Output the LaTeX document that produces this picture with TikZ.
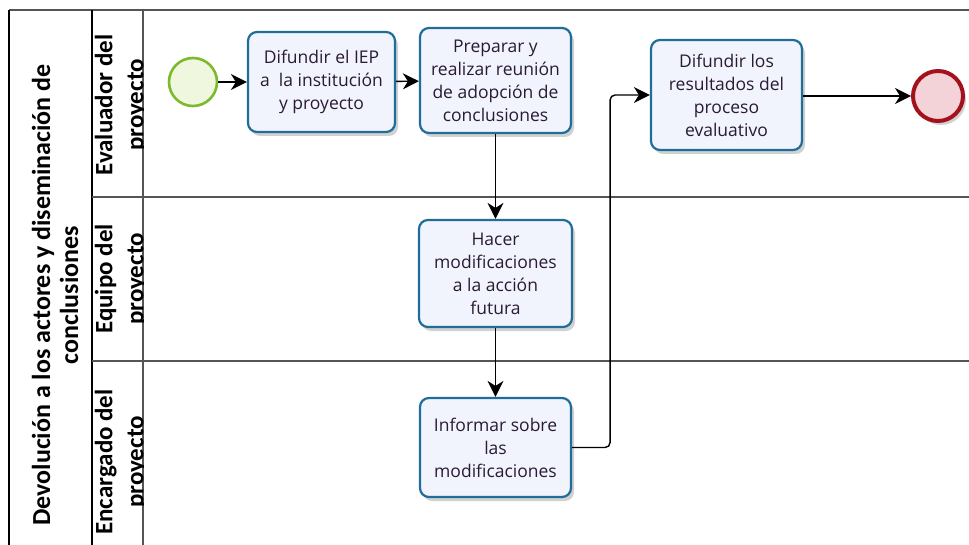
\documentclass[tikz,border=0pt]{standalone}
\usepackage{fontspec}
\setmainfont{Open Sans}
\newfontfamily\lanefont{Carlito}
\usetikzlibrary{arrows.meta,shadows}
\definecolor{taskline}{HTML}{1F6D98}
\definecolor{taskfill}{HTML}{F1F4FC}
\definecolor{tasktext}{HTML}{2A1A35}
\definecolor{startline}{HTML}{7DBA2A}
\definecolor{startfill}{HTML}{EFF8DF}
\definecolor{endline}{HTML}{A3121C}
\definecolor{endfill}{HTML}{F4D3D8}
\definecolor{laneline}{HTML}{555555}
\begin{document}
\begin{tikzpicture}[x=1pt,y=-1pt,
    task/.style={draw=taskline, line width=2.2pt, rounded corners=9pt, fill=taskfill,
      align=center, text=tasktext, inner sep=2pt,
      font=\fontsize{17.5}{23}\selectfont,
      drop shadow={shadow xshift=3pt, shadow yshift=-4pt, opacity=0.18, fill=black}},
    event/.style={circle, minimum size=#1},
    flow/.style={draw=black, line width=1.4pt, -{Stealth[length=16pt,width=16pt,inset=5pt]}},
    lanelabel/.style={rotate=90, align=center, font=\lanefont\bfseries\fontsize{25}{31}\selectfont}]
  \useasboundingbox (0,0) rectangle (969,545);
  \fill[white] (0,0) rectangle (969,545);

  % pool and lanes
  \draw[laneline, line width=1.6pt] (9,10) -- (969,10);
  \draw[black, line width=1.6pt] (9,10) -- (9,545);
  \draw[black, line width=2pt] (92,10) -- (92,545);
  \draw[laneline, line width=2pt] (143,10) -- (143,545);
  \draw[laneline, line width=1.6pt] (92,197) -- (969,197);
  \draw[laneline, line width=1.6pt] (92,361) -- (969,361);
  \node[rotate=90, align=center, font=\lanefont\bfseries\fontsize{26}{28}\selectfont] (pool) at (55,295)
    {Devolución a los actores y diseminación de\\conclusiones};
  \begin{scope}
    \clip (92,10) rectangle (143,545);
    \node[lanelabel] (evaluador) at (121,105) {Evaluador del\\proyecto};
    \node[lanelabel] (equipo) at (121,279) {Equipo del\\proyecto};
    \node[lanelabel] (encargado) at (121,462) {Encargado del\\proyecto};
  \end{scope}

  % events
  \node[event=48pt, draw=startline, line width=2.6pt, fill=startfill] (start) at (193,82) {};
  \node[event=50pt, draw=endline, line width=4pt, fill=endfill,
    drop shadow={shadow xshift=3pt, shadow yshift=-4pt, opacity=0.18, fill=black}] (end) at (938,96) {};

  % tasks
  \node[task, minimum width=147pt, minimum height=100pt] (difundir) at (321.5,82)
    {Difundir el IEP\\a\ \ la institución\\y proyecto};
  \node[task, minimum width=151pt, minimum height=105pt] (preparar) at (495.5,80.5)
    {Preparar y\\realizar reunión\\de adopción de\\conclusiones};
  \node[task, minimum width=151pt, minimum height=110pt] (resultados) at (726.5,95)
    {Difundir los\\resultados del\\proceso\\evaluativo};
  \node[task, minimum width=153pt, minimum height=107pt] (hacer) at (495.5,273.5)
    {Hacer\\modificaciones\\a la acción\\futura};
  \node[task, minimum width=151pt, minimum height=99pt] (informar) at (495.5,447.5)
    {Informar sobre\\las\\modificaciones};

  % flows
  \draw[flow] (start) -- (difundir);
  \draw[flow] (difundir) -- (preparar);
  \draw[flow] (preparar) -- (hacer);
  \draw[flow] (hacer) -- (informar);
  \draw[flow, rounded corners=5pt] (informar.east) -- ++(38,0) |- (resultados.west);
  \draw[flow] (resultados.east |- end) -- (end);
\end{tikzpicture}
\end{document}
